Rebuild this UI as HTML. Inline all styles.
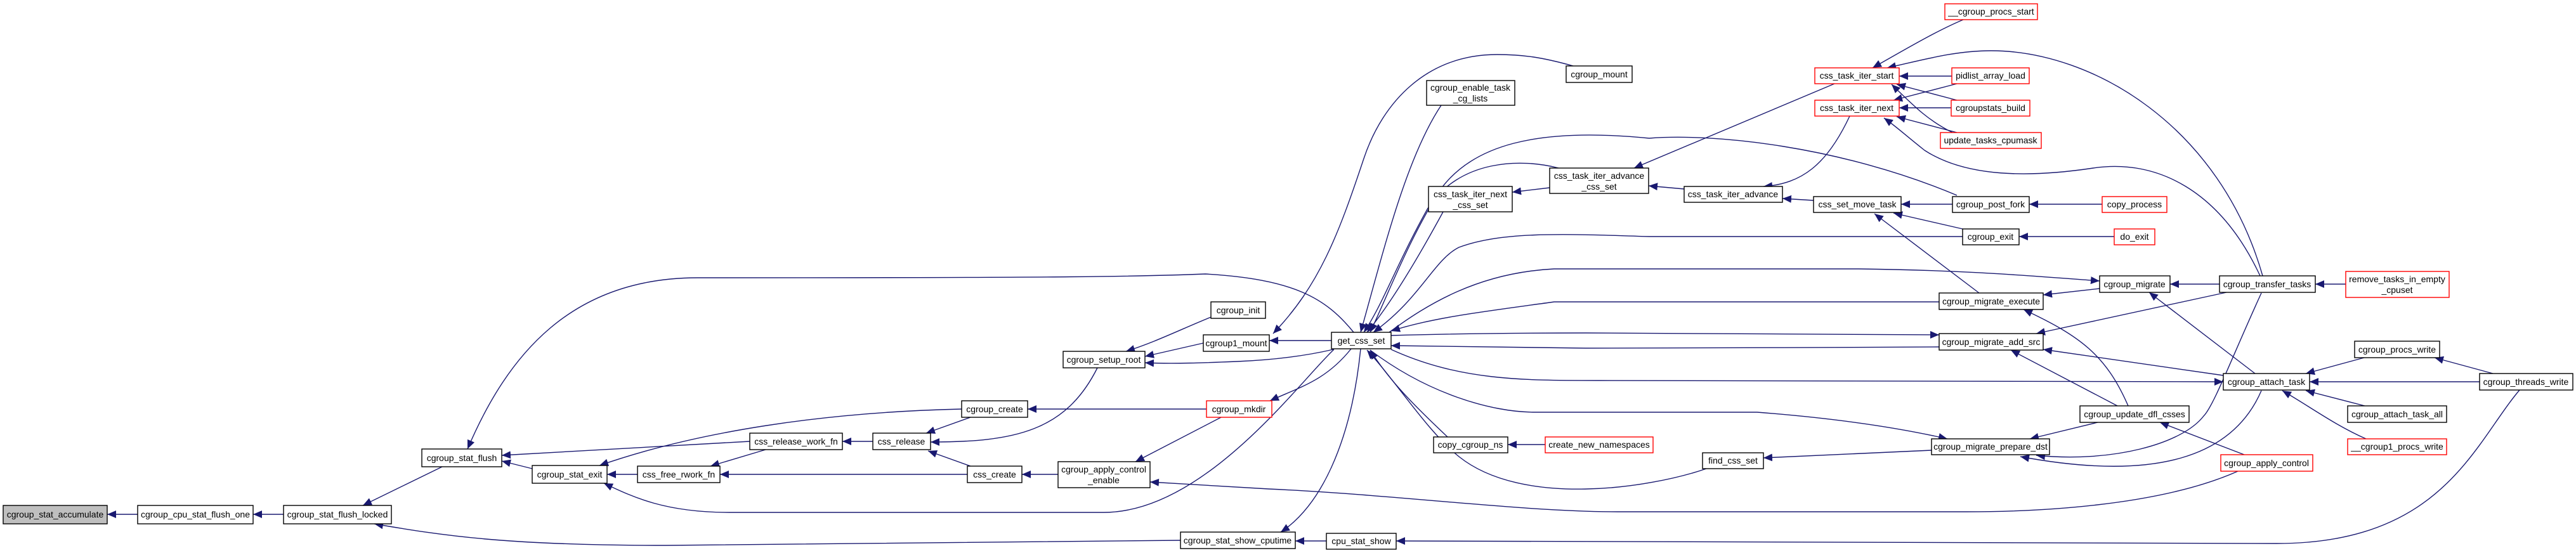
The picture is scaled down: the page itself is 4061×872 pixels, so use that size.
<!DOCTYPE html>
<html><head><meta charset="utf-8"><style>
html,body{margin:0;padding:0;background:#fff;}
svg{display:block;}
text{font-family:"Liberation Sans",sans-serif;font-size:14px;fill:#000;}
.e{fill:none;stroke:#191970;stroke-width:1.4;marker-end:url(#a);}
rect{fill:#fff;stroke:#000;stroke-width:1.4;}
rect.r{stroke:#ff0000;}
rect.g{fill:#bfbfbf;}
</style></head><body>
<svg width="4061" height="872" viewBox="0 0 4061 872" xmlns="http://www.w3.org/2000/svg">
<defs><marker id="a" markerUnits="userSpaceOnUse" markerWidth="14" markerHeight="12" viewBox="0 0 14 12" refX="14" refY="6" orient="auto"><path d="M0,0 L14,6 L0,12 z" fill="#191970"/></marker></defs>
<g>
<path class="e" d="M217,811 L169,811"/>
<path class="e" d="M447,811 L399,811"/>
<path class="e" d="M697,736 L572,797"/>
<path class="e" d="M1861,852 L1050,860 C800,860 700,845 590,826"/>
<path class="e" d="M2134,524 C2090,470 2040,440 1900,432 C1800,436 1700,438 1100,438 C900,438 800,560 737,708"/>
<path class="e" d="M1182,696 L791,718"/>
<path class="e" d="M839,739 L791,727"/>
<path class="e" d="M1516,645 C1300,650 1100,680 945,734"/>
<path class="e" d="M1005,748 L957,748"/>
<path class="e" d="M2103,551 C2050,600 1900,808 1740,808 L1150,808 C1050,808 1000,785 952,762"/>
<path class="e" d="M1207,709 L1120,735"/>
<path class="e" d="M1376,696 L1328,696"/>
<path class="e" d="M1530,658 L1460,683"/>
<path class="e" d="M1730,580 C1680,680 1600,697 1467,697"/>
<path class="e" d="M1530,735 L1463,711"/>
<path class="e" d="M1525,748 L1135,748"/>
<path class="e" d="M1668,748 L1611,748"/>
<path class="e" d="M1902,645 L1620,645"/>
<path class="e" d="M1909,500 C1860,520 1820,540 1775,554"/>
<path class="e" d="M1897,541 L1805,562"/>
<path class="e" d="M2102,551 C2050,563 2000,568 1950,570 C1900,572 1850,574 1805,572"/>
<path class="e" d="M2099,537 L2001,537"/>
<path class="e" d="M2480,104 C2430,90 2400,86 2360,86 C2250,86 2180,160 2150,250 C2110,370 2080,450 2007,526"/>
<path class="e" d="M2130,550 C2090,600 2050,610 2002,632"/>
<path class="e" d="M1925,658 L1790,728"/>
<path class="e" d="M3528,743 C3400,800 3200,807 3100,807 L2550,807 C2400,807 2200,780 2000,771 L1813,760"/>
<path class="e" d="M2145,550 C2130,700 2080,800 2019,839"/>
<path class="e" d="M2091,853 L2042,853"/>
<path class="e" d="M3972,615 C3900,700 3850,857 3589,857 L2201,853"/>
<path class="e" d="M2272,166 C2216,250 2180,400 2145,524"/>
<path class="e" d="M2457,265 C2400,250 2300,250 2250,330 C2200,420 2180,480 2150,524"/>
<path class="e" d="M2275,334 C2250,380 2200,470 2155,524"/>
<path class="e" d="M3085,308 C2900,230 2700,210 2600,218 C2420,200 2320,230 2270,300 C2220,380 2190,460 2160,524"/>
<path class="e" d="M3094,373 L2600,373 C2450,368 2365,366 2300,390 C2260,410 2240,470 2165,524"/>
<path class="e" d="M2190,524 C2250,480 2330,430 2450,424 L2930,424 C3100,426 3200,435 3310,443"/>
<path class="e" d="M3057,476 L2450,476 C2350,490 2260,500 2193,522"/>
<path class="e" d="M2193,529 C2300,526 2400,525 2500,525 L3057,528"/>
<path class="e" d="M3057,547 C2900,548 2600,549 2500,549 L2193,545"/>
<path class="e" d="M2193,551 C2300,600 2400,600 2520,600 L3505,602"/>
<path class="e" d="M2160,552 C2250,620 2350,650 2420,650 L2770,650 C2900,660 3000,676 3070,692"/>
<path class="e" d="M2282,689 C2230,640 2190,600 2160,552"/>
<path class="e" d="M2436,701 L2377,701"/>
<path class="e" d="M2690,739 C2600,770 2400,800 2300,720 C2250,680 2200,600 2155,552"/>
<path class="e" d="M3045,710 L2780,722"/>
<path class="e" d="M3095,31 C3050,50 3000,80 2952,107"/>
<path class="e" d="M3567,435 C3500,200 3300,80 3139,80 C3080,80 3030,95 2975,107"/>
<path class="e" d="M3077,120 L2994,120"/>
<path class="e" d="M3085,158 L2990,133"/>
<path class="e" d="M3078,209 C3040,190 3020,170 2982,133"/>
<path class="e" d="M3085,132 L2985,158"/>
<path class="e" d="M3076,170 L2994,170"/>
<path class="e" d="M3085,209 L2990,184"/>
<path class="e" d="M3563,435 C3500,300 3400,250 3300,265 C3200,280 3100,280 3034,237 C3000,210 2990,200 2970,186"/>
<path class="e" d="M2892,132 L2576,265"/>
<path class="e" d="M2916,183 C2880,260 2840,290 2780,294"/>
<path class="e" d="M2655,298 L2599,293"/>
<path class="e" d="M2443,296 L2384,303"/>
<path class="e" d="M2859,316 L2810,313"/>
<path class="e" d="M3078,322 L2997,322"/>
<path class="e" d="M3314,322 L3199,322"/>
<path class="e" d="M3094,361 L2985,336"/>
<path class="e" d="M3333,373 L3183,373"/>
<path class="e" d="M3120,462 L2955,337"/>
<path class="e" d="M3310,455 L3221,465"/>
<path class="e" d="M3499,448 L3421,448"/>
<path class="e" d="M3698,448 L3650,448"/>
<path class="e" d="M3510,461 L3210,526"/>
<path class="e" d="M3355,640 C3320,560 3280,530 3190,488"/>
<path class="e" d="M3338,640 L3170,552"/>
<path class="e" d="M3505,592 L3221,551"/>
<path class="e" d="M3555,589 L3388,461"/>
<path class="e" d="M3727,564 L3635,589"/>
<path class="e" d="M3930,589 L3838,564"/>
<path class="e" d="M3909,602 L3641,602"/>
<path class="e" d="M3728,640 L3635,616"/>
<path class="e" d="M3730,692 C3680,670 3640,640 3598,616"/>
<path class="e" d="M3307,666 L3200,692"/>
<path class="e" d="M3538,717 L3405,666"/>
<path class="e" d="M3565,462 C3520,560 3490,640 3474,656 C3440,700 3330,730 3210,718"/>
<path class="e" d="M3565,616 C3520,720 3400,760 3185,720"/>
</g>
<g text-anchor="middle">
<rect class="g" x="5" y="797" width="164" height="29"/><text x="87" y="816">cgroup_stat_accumulate</text>
<rect x="217" y="797" width="182" height="29"/><text x="308" y="816">cgroup_cpu_stat_flush_one</text>
<rect x="447" y="797" width="170" height="29"/><text x="532" y="816">cgroup_stat_flush_locked</text>
<rect x="665" y="708" width="126" height="28"/><text x="728" y="727">cgroup_stat_flush</text>
<rect x="839" y="734" width="118" height="28"/><text x="898" y="753">cgroup_stat_exit</text>
<rect x="1909" y="476" width="86" height="26"/><text x="1952" y="494">cgroup_init</text>
<rect x="1897" y="528" width="104" height="26"/><text x="1949" y="546">cgroup1_mount</text>
<rect x="1676" y="554" width="129" height="26"/><text x="1740" y="572">cgroup_setup_root</text>
<rect x="1516" y="632" width="104" height="26"/><text x="1568" y="650">cgroup_create</text>
<rect class="r" x="1902" y="632" width="103" height="26"/><text x="1953" y="650">cgroup_mkdir</text>
<rect x="1182" y="683" width="146" height="26"/><text x="1255" y="701">css_release_work_fn</text>
<rect x="1376" y="683" width="91" height="26"/><text x="1421" y="701">css_release</text>
<rect x="1005" y="735" width="130" height="26"/><text x="1070" y="753">css_free_rwork_fn</text>
<rect x="1525" y="735" width="86" height="26"/><text x="1568" y="753">css_create</text>
<rect x="1668" y="728" width="145" height="41"/><text x="1740" y="745">cgroup_apply_control</text><text x="1740" y="762">_enable</text>
<rect x="1861" y="839" width="181" height="26"/><text x="1951" y="857">cgroup_stat_show_cputime</text>
<rect x="2469" y="104" width="104" height="26"/><text x="2521" y="122">cgroup_mount</text>
<rect x="2249" y="127" width="139" height="39"/><text x="2318" y="143">cgroup_enable_task</text><text x="2318" y="160">_cg_lists</text>
<rect x="2443" y="265" width="156" height="40"/><text x="2521" y="282">css_task_iter_advance</text><text x="2521" y="299">_css_set</text>
<rect x="2252" y="294" width="132" height="40"/><text x="2318" y="311">css_task_iter_next</text><text x="2318" y="328">_css_set</text>
<rect x="2099" y="524" width="94" height="26"/><text x="2146" y="542">get_css_set</text>
<rect x="2260" y="689" width="117" height="25"/><text x="2318" y="706">copy_cgroup_ns</text>
<rect class="r" x="2436" y="689" width="170" height="25"/><text x="2521" y="706">create_new_namespaces</text>
<rect x="2684" y="714" width="96" height="25"/><text x="2732" y="731">find_css_set</text>
<rect x="2091" y="841" width="110" height="25"/><text x="2146" y="858">cpu_stat_show</text>
<rect class="r" x="3066" y="6" width="146" height="25"/><text x="3139" y="23">__cgroup_procs_start</text>
<rect class="r" x="2861" y="107" width="133" height="25"/><text x="2927" y="124">css_task_iter_start</text>
<rect class="r" x="3077" y="107" width="122" height="25"/><text x="3138" y="124">pidlist_array_load</text>
<rect class="r" x="2861" y="158" width="133" height="25"/><text x="2927" y="175">css_task_iter_next</text>
<rect class="r" x="3076" y="158" width="124" height="25"/><text x="3138" y="175">cgroupstats_build</text>
<rect class="r" x="3059" y="209" width="159" height="25"/><text x="3138" y="226">update_tasks_cpumask</text>
<rect x="2655" y="294" width="155" height="25"/><text x="2732" y="311">css_task_iter_advance</text>
<rect x="2859" y="310" width="138" height="25"/><text x="2928" y="327">css_set_move_task</text>
<rect x="3078" y="310" width="121" height="25"/><text x="3138" y="327">cgroup_post_fork</text>
<rect class="r" x="3314" y="310" width="102" height="25"/><text x="3365" y="327">copy_process</text>
<rect x="3094" y="361" width="89" height="25"/><text x="3138" y="378">cgroup_exit</text>
<rect class="r" x="3333" y="361" width="64" height="25"/><text x="3365" y="378">do_exit</text>
<rect x="3310" y="435" width="111" height="26"/><text x="3365" y="453">cgroup_migrate</text>
<rect x="3499" y="435" width="151" height="26"/><text x="3574" y="453">cgroup_transfer_tasks</text>
<rect class="r" x="3698" y="428" width="163" height="41"/><text x="3779" y="445">remove_tasks_in_empty</text><text x="3779" y="462">_cpuset</text>
<rect x="3057" y="462" width="164" height="26"/><text x="3139" y="480">cgroup_migrate_execute</text>
<rect x="3057" y="526" width="164" height="26"/><text x="3139" y="544">cgroup_migrate_add_src</text>
<rect x="3712" y="538" width="134" height="26"/><text x="3779" y="556">cgroup_procs_write</text>
<rect x="3505" y="589" width="136" height="26"/><text x="3573" y="607">cgroup_attach_task</text>
<rect x="3909" y="589" width="147" height="26"/><text x="3982" y="607">cgroup_threads_write</text>
<rect x="3279" y="640" width="172" height="26"/><text x="3365" y="658">cgroup_update_dfl_csses</text>
<rect x="3701" y="640" width="156" height="26"/><text x="3779" y="658">cgroup_attach_task_all</text>
<rect x="3045" y="692" width="186" height="25"/><text x="3138" y="709">cgroup_migrate_prepare_dst</text>
<rect class="r" x="3701" y="692" width="156" height="25"/><text x="3779" y="709">__cgroup1_procs_write</text>
<rect class="r" x="3501" y="717" width="145" height="26"/><text x="3573" y="735">cgroup_apply_control</text>
</g>
</svg>
</body></html>
